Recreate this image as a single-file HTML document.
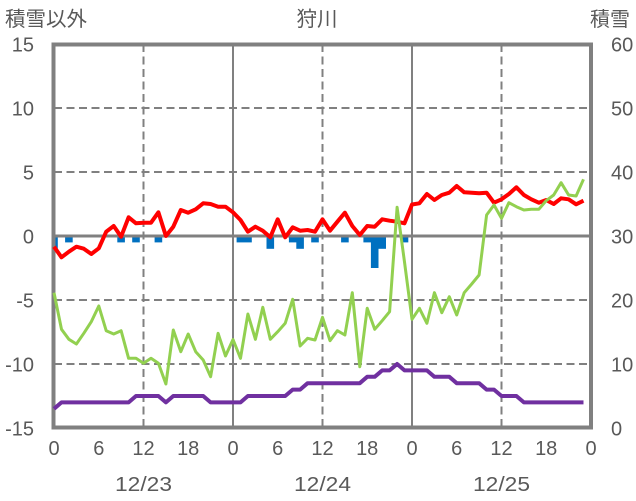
<!DOCTYPE html>
<html>
<head>
<meta charset="utf-8">
<style>
html,body{margin:0;padding:0;background:#fff;}
svg{display:block;}
text{font-family:"Liberation Sans","Noto Sans CJK JP",sans-serif;fill:#595959;}
</style>
</head>
<body>
<svg width="636" height="501" viewBox="0 0 636 501" xmlns="http://www.w3.org/2000/svg">
<rect x="0" y="0" width="636" height="501" fill="#fff"/>

<!-- titles -->
<text x="5" y="26" font-size="20.5">積雪以外</text>
<text x="317" y="26" font-size="20.5" text-anchor="middle">狩川</text>
<text x="590" y="26" font-size="20">積雪</text>

<!-- horizontal dashed gridlines -->
<g stroke="#808080" stroke-width="2" stroke-dasharray="8,4.5" fill="none">
  <line x1="54" y1="108" x2="591" y2="108"/>
  <line x1="54" y1="172" x2="591" y2="172"/>
  <line x1="54" y1="300" x2="591" y2="300"/>
  <line x1="54" y1="364" x2="591" y2="364"/>
  <line x1="143.5" y1="44" x2="143.5" y2="428"/>
  <line x1="322.5" y1="44" x2="322.5" y2="428"/>
  <line x1="501.5" y1="44" x2="501.5" y2="428"/>
</g>
<!-- solid day lines -->
<g stroke="#808080" stroke-width="2" fill="none">
  <line x1="233" y1="44" x2="233" y2="428"/>
  <line x1="412" y1="44" x2="412" y2="428"/>
</g>

<!-- blue bars -->
<g fill="#0070c0">
  <rect x="54" y="236" width="3.8" height="12.8"/>
  <rect x="65.1" y="236" width="7.6" height="6.4"/>
  <rect x="117.3" y="236" width="7.6" height="6.4"/>
  <rect x="132.2" y="236" width="7.6" height="6.4"/>
  <rect x="154.6" y="236" width="7.6" height="6.4"/>
  <rect x="236.6" y="236" width="15.2" height="6.4"/>
  <rect x="266.5" y="236" width="7.6" height="12.8"/>
  <rect x="288.9" y="236" width="7.6" height="6.4"/>
  <rect x="296.3" y="236" width="7.6" height="12.8"/>
  <rect x="311.2" y="236" width="7.6" height="6.4"/>
  <rect x="341.1" y="236" width="7.6" height="6.4"/>
  <rect x="363.4" y="236" width="7.6" height="6.4"/>
  <rect x="370.9" y="236" width="7.6" height="32"/>
  <rect x="378.4" y="236" width="7.6" height="12.8"/>
  <rect x="400.7" y="236" width="7.6" height="6.4"/>
</g>

<!-- zero line -->
<line x1="54" y1="236" x2="591" y2="236" stroke="#808080" stroke-width="3"/>

<!-- frame -->
<rect x="53.5" y="44.5" width="537.5" height="383" fill="none" stroke="#808080" stroke-width="4"/>

<!-- red series -->
<polyline fill="none" stroke="#ff0000" stroke-width="4" stroke-linejoin="round" points="54,246.7 61.5,257.3 68.9,251.7 76.4,246.7 83.8,248.7 91.3,254 98.8,248.3 106.2,231.7 113.7,226 121.1,236.7 128.6,217.3 136,223.3 143.5,222.7 151,222.7 158.4,212.3 165.9,236 173.3,226.7 180.8,210 188.2,212.7 195.7,209.3 203.2,203.3 210.6,204 218.1,206.7 225.5,206.7 233,212.3 240.5,220 247.9,231.7 255.4,226.7 262.8,230.7 270.3,237.3 277.7,219.3 285.2,237.3 292.7,227.3 300.1,230.7 307.6,230 315,231.7 322.5,219.3 330,230.7 337.4,221.7 344.9,212.7 352.3,226 359.8,235 367.2,226 374.7,226.7 382.2,219.3 389.6,220.7 397.1,221.7 404.5,223.3 412,204.5 419.4,203.3 426.9,194 434.4,200 441.8,195 449.3,192.7 456.7,186 464.2,192.3 471.7,192.7 479.1,193.3 486.6,192.7 494,202.7 501.5,199.3 508.9,194 516.4,187.3 523.9,195 531.3,199.3 538.8,202.7 546.2,200 553.7,204 561.1,198.3 568.6,199.3 576.1,204.3 583.5,200.7"/>

<!-- green series -->
<polyline fill="none" stroke="#92d050" stroke-width="3" stroke-linejoin="round" points="54,292.7 61.5,329.3 68.9,339.3 76.4,344 83.8,333.3 91.3,321.7 98.8,306 106.2,330.7 113.7,334 121.1,330.7 128.6,358.3 136,358.3 143.5,363.3 151,358.3 158.4,363.3 165.9,384 173.3,330 180.8,351.7 188.2,334 195.7,351.7 203.2,360 210.6,376.7 218.1,333.3 225.5,356 233,339.5 240.5,358.3 247.9,314 255.4,339.3 262.8,307.3 270.3,339.3 277.7,331.7 285.2,323.3 292.7,299.3 300.1,346 307.6,338.3 315,340 322.5,317.3 330,340.7 337.4,330.7 344.9,335 352.3,292.7 359.8,366.7 367.2,308.3 374.7,329.3 382.2,320.7 389.6,311.7 397.1,207.3 404.5,262 412,319.3 419.4,308.3 426.9,323.3 434.4,292.7 441.8,312.7 449.3,296.7 456.7,315 464.2,292.7 471.7,284 479.1,275 486.6,215 494,205 501.5,218.3 508.9,202.7 516.4,206.7 523.9,210 531.3,209.3 538.8,209.3 546.2,200.7 553.7,195 561.1,182.7 568.6,195 576.1,196 583.5,179.3"/>

<!-- purple series -->
<polyline fill="none" stroke="#7030a0" stroke-width="4" stroke-linejoin="round" points="54,408.8 61.5,402.4 68.9,402.4 76.4,402.4 83.8,402.4 91.3,402.4 98.8,402.4 106.2,402.4 113.7,402.4 121.1,402.4 128.6,402.4 136,396 143.5,396 151,396 158.4,396 165.9,402.4 173.3,396 180.8,396 188.2,396 195.7,396 203.2,396 210.6,402.4 218.1,402.4 225.5,402.4 233,402.4 240.5,402.4 247.9,396 255.4,396 262.8,396 270.3,396 277.7,396 285.2,396 292.7,389.6 300.1,389.6 307.6,383.2 315,383.2 322.5,383.2 330,383.2 337.4,383.2 344.9,383.2 352.3,383.2 359.8,383.2 367.2,376.8 374.7,376.8 382.2,370.4 389.6,370.4 397.1,364 404.5,370.4 412,370.4 419.4,370.4 426.9,370.4 434.4,376.8 441.8,376.8 449.3,376.8 456.7,383.2 464.2,383.2 471.7,383.2 479.1,383.2 486.6,389.6 494,389.6 501.5,396 508.9,396 516.4,396 523.9,402.4 531.3,402.4 538.8,402.4 546.2,402.4 553.7,402.4 561.1,402.4 568.6,402.4 576.1,402.4 583.5,402.4"/>

<!-- left axis labels -->
<g font-size="20" text-anchor="end">
  <text x="34" y="51.5">15</text>
  <text x="34" y="115.5">10</text>
  <text x="34" y="179.5">5</text>
  <text x="34" y="243.5">0</text>
  <text x="34" y="307.5">-5</text>
  <text x="34" y="371.5">-10</text>
  <text x="34" y="435.5">-15</text>
</g>
<!-- right axis labels -->
<g font-size="20">
  <text x="611" y="51.5">60</text>
  <text x="611" y="115.5">50</text>
  <text x="611" y="179.5">40</text>
  <text x="611" y="243.5">30</text>
  <text x="611" y="307.5">20</text>
  <text x="611" y="371.5">10</text>
  <text x="611" y="435.5">0</text>
</g>
<!-- x tick labels -->
<g font-size="20" text-anchor="middle">
  <text x="54" y="455">0</text>
  <text x="98.8" y="455">6</text>
  <text x="143.5" y="455">12</text>
  <text x="188.2" y="455">18</text>
  <text x="233" y="455">0</text>
  <text x="277.7" y="455">6</text>
  <text x="322.5" y="455">12</text>
  <text x="367.2" y="455">18</text>
  <text x="412" y="455">0</text>
  <text x="456.7" y="455">6</text>
  <text x="501.5" y="455">12</text>
  <text x="546.2" y="455">18</text>
  <text x="591" y="455">0</text>
</g>
<!-- date labels -->
<g font-size="20">
  <text x="115" y="491" textLength="57" lengthAdjust="spacingAndGlyphs">12/23</text>
  <text x="294" y="491" textLength="57" lengthAdjust="spacingAndGlyphs">12/24</text>
  <text x="473" y="491" textLength="57" lengthAdjust="spacingAndGlyphs">12/25</text>
</g>
</svg>
</body>
</html>
